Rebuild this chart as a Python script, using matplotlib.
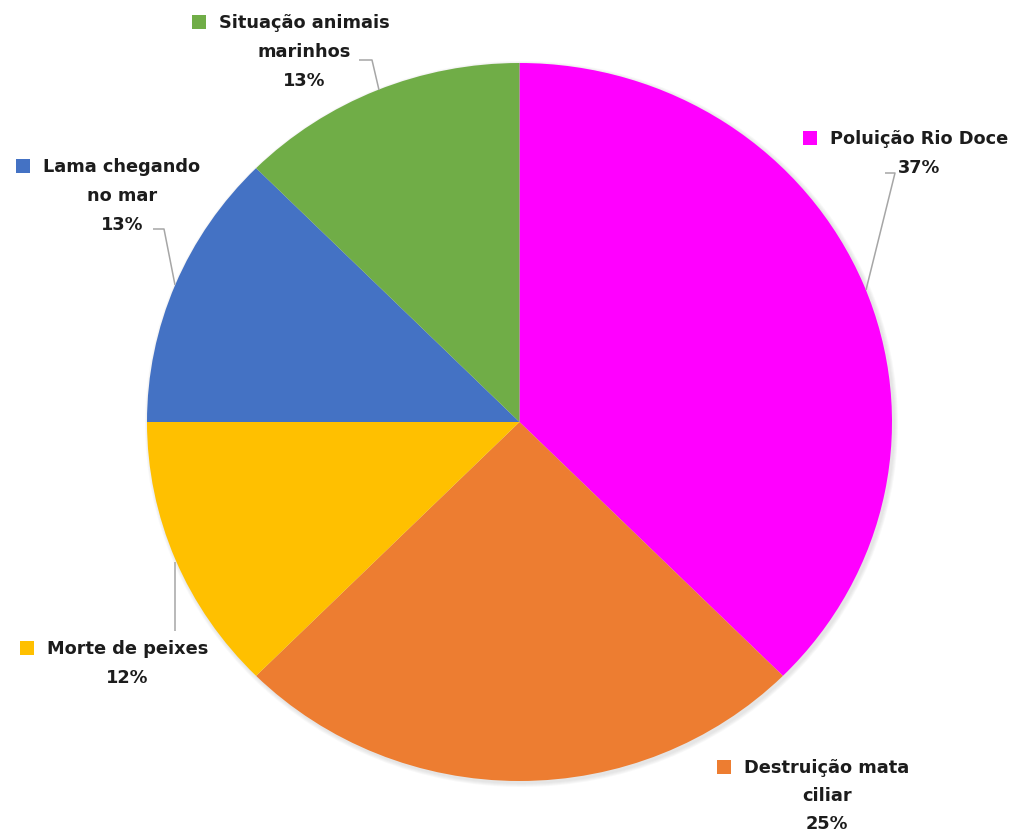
import matplotlib
matplotlib.use("Agg")
import matplotlib.pyplot as plt
from matplotlib.patches import Ellipse, Rectangle

# ---- data ----
categories = ["Poluição Rio Doce", "Destruição mata ciliar", "Morte de peixes",
              "Lama chegando no mar", "Situação animais marinhos"]
values = [37.5, 25.0, 12.5, 12.5, 12.5]
pct_labels = ["37%", "25%", "12%", "13%", "13%"]
label_lines = [["Poluição Rio Doce"], ["Destruição mata", "ciliar"], ["Morte de peixes"],
               ["Lama chegando", "no mar"], ["Situação animais", "marinhos"]]
colors = ["#FF00FF", "#ED7D31", "#FFC000", "#4472C4", "#70AD47"]

W, H = 1017, 833
fig = plt.figure(figsize=(W / 100, H / 100), dpi=100)

# pie axes (slightly elliptical as in the reference)
cx, cy, a, b = 519.5, 422, 372.5, 359
ax = fig.add_axes([(cx - a) / W, (H - (cy + b)) / H, 2 * a / W, 2 * b / H])
ax.pie(values, colors=colors, startangle=90, counterclock=False,
       wedgeprops=dict(edgecolor="none"), radius=1)
ax.set_aspect("auto")
ax.set_xlim(-1, 1)
ax.set_ylim(-1, 1)
ax.axis("off")

# overlay axes in pixel coordinates
ov = fig.add_axes([0, 0, 1, 1], zorder=-1)
ov.set_xlim(0, W)
ov.set_ylim(H, 0)
ov.axis("off")
# soft shadow
for i, al in enumerate([0.05, 0.05, 0.05, 0.05]):
    d = 2 + i * 2
    ov.add_patch(Ellipse((cx + 2, cy + 2), 2 * a + d, 2 * b + d, color="#808080", alpha=al, lw=0))

top = fig.add_axes([0, 0, 1, 1], zorder=5)
top.set_xlim(0, W)
top.set_ylim(H, 0)
top.axis("off")

# label block layout: (center x, first line center y, line gap)
label_pos = [(919.5, 138, 29), (827, 767, 28), (127.5, 648, 29), (122, 166, 29), (304, 22, 29)]
txt_kw = dict(fontsize=12.8, fontweight="bold", color="#1c1c1c", family="DejaVu Sans",
              ha="center", va="center")
first_texts = []
for (x, y, g), lines, pct in zip(label_pos, label_lines, pct_labels):
    allines = lines + [pct]
    for k, ln in enumerate(allines):
        t = top.text(x, y + k * g + 1, ln, **txt_kw)
        if k == 0:
            first_texts.append(t)

# leader lines
leaders = [
    [(885, 173), (895, 173), (866, 290)],
    None,
    [(175, 562), (175, 631)],
    [(153, 229), (164, 229), (175, 285)],
    [(359, 60), (372, 60), (379, 90)],
]
for ld in leaders:
    if ld:
        xs, ys = zip(*ld)
        top.plot(xs, ys, color="#A6A6A6", lw=1.1, solid_capstyle="butt")

# legend-key squares left of first line
fig.canvas.draw()
r = fig.canvas.get_renderer()
for t, (x, y, g), c in zip(first_texts, label_pos, colors):
    bb = t.get_window_extent(r)
    x0 = bb.x0
    top.add_patch(Rectangle((x0 - 13 - 14, y - 7), 14, 14, color=c, lw=0))

fig.savefig("out.png", dpi=100, facecolor="white")
